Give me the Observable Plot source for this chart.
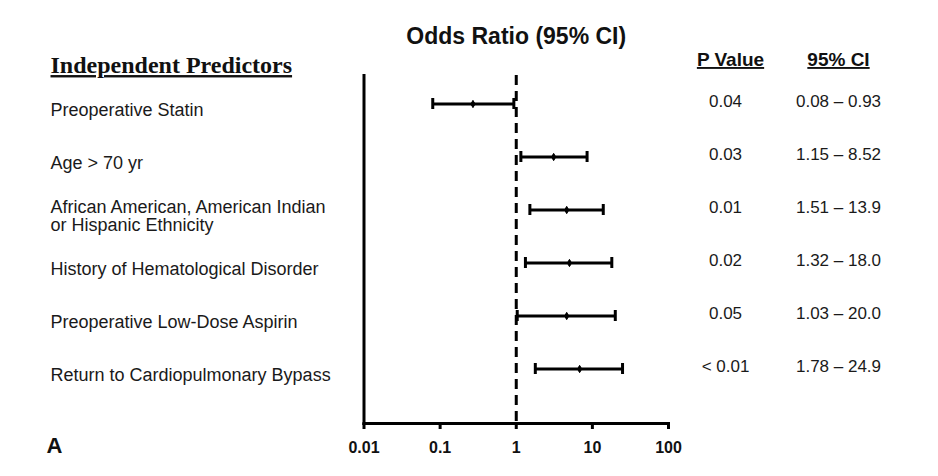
<!DOCTYPE html>
<html>
<head>
<meta charset="utf-8">
<script src="https://cdn.jsdelivr.net/npm/d3@7"></script>
<script src="https://cdn.jsdelivr.net/npm/@observablehq/plot@0.6"></script>
<style>
  html, body { margin: 0; padding: 0; background: #fff; }
  #chart { width: 938px; height: 476px; overflow: hidden; }
</style>
</head>
<body>
<div id="chart"></div>
<script>
// ---- Data ----
const predictors = [
  "Preoperative Statin",
  "Age > 70 yr",
  "African American, American Indian\nor Hispanic Ethnicity",
  "History of Hematological Disorder",
  "Preoperative Low-Dose Aspirin",
  "Return to Cardiopulmonary Bypass"
];
const oddsRatio = [0.27, 3.1, 4.6, 5.0, 4.6, 6.8];
const ciLow  = [0.08, 1.15, 1.51, 1.32, 1.03, 1.78];
const ciHigh = [0.93, 8.52, 13.9, 18.0, 20.0, 24.9];
const pValues = ["0.04", "0.03", "0.01", "0.02", "0.05", "< 0.01"];
const ciLabels = ["0.08 – 0.93", "1.15 – 8.52", "1.51 – 13.9", "1.32 – 18.0", "1.03 – 20.0", "1.78 – 24.9"];
const tickValues = [0.01, 0.1, 1, 10, 100];
const tickLabels = ["0.01", "0.1", "1", "10", "100"];
const xDomain = [0.01, 100];
const referenceLine = [1];
const titleText = ["Odds Ratio (95% CI)"];
const leftHeader = ["Independent Predictors"];
const pHeader = ["P Value"];
const ciHeader = ["95% CI"];
const panelLabel = ["A"];

const rows = predictors.map((name, i) => ({
  name, or: oddsRatio[i], lo: ciLow[i], hi: ciHigh[i], p: pValues[i], ci: ciLabels[i]
}));

const font = "'Liberation Sans', Arial, sans-serif";
const ink = "#111";

const chart = Plot.plot({
  width: 938,
  height: 476,
  marginLeft: 363.5,
  marginRight: 270,
  marginTop: 75,
  marginBottom: 53,
  style: { fontFamily: font, background: "white", color: ink, overflow: "visible" },
  x: { type: "log", domain: xDomain, axis: null },
  y: { type: "band", domain: predictors, padding: 0, insetBottom: 27, axis: null },
  marks: [
    // axes lines
    Plot.frame({ anchor: "left", stroke: "black", strokeWidth: 3, strokeLinecap: "square" }),
    Plot.frame({ anchor: "bottom", stroke: "black", strokeWidth: 3, strokeLinecap: "square" }),
    Plot.axisX({
      ticks: tickValues,
      tickFormat: d => tickLabels[tickValues.indexOf(d)],
      tickSize: 6,
      tickPadding: 12,
      strokeWidth: 3,
      stroke: "black",
      fontSize: 16,
      fontWeight: "bold",
      fill: ink
    }),
    // reference line at OR = 1
    Plot.ruleX(referenceLine, { stroke: "black", strokeWidth: 3, strokeDasharray: "10,6" }),
    // error bars
    Plot.ruleY(rows, { y: "name", x1: "lo", x2: "hi", stroke: "black", strokeWidth: 3 }),
    Plot.tickX(rows, { x: "lo", y: "name", stroke: "black", strokeWidth: 3, insetTop: 21, insetBottom: 21 }),
    Plot.tickX(rows, { x: "hi", y: "name", stroke: "black", strokeWidth: 3, insetTop: 21, insetBottom: 21 }),
    Plot.dot(rows, { x: "or", y: "name", symbol: "diamond", r: 2.2, fill: "black", stroke: "black", strokeWidth: 1 }),
    // predictor labels
    Plot.text(rows, {
      y: "name", text: "name", frameAnchor: "left", textAnchor: "start",
      dx: -313.5, dy: 6, fontSize: 18, lineHeight: 1.03, fill: "#1a1a1a"
    }),
    // p values and CI columns
    Plot.text(rows, { y: "name", text: "p", frameAnchor: "right", textAnchor: "middle", dx: 57, dy: -2, fontSize: 17, fill: "#1a1a1a" }),
    Plot.text(rows, { y: "name", text: "ci", frameAnchor: "right", textAnchor: "middle", dx: 170, dy: -2, fontSize: 17, fill: "#1a1a1a" }),
    // headers
    Plot.text(titleText, { text: d => d, frameAnchor: "top", textAnchor: "middle", dy: -48, fontSize: 23, fontWeight: "bold", fill: ink }),
    Plot.text(leftHeader, {
      text: d => d, frameAnchor: "top-left", textAnchor: "start", dx: -313.5, dy: -19.5,
      fontSize: 24, fontWeight: "bold", fontFamily: "'Liberation Serif', 'Times New Roman', serif", fill: ink
    }),
    Plot.text(pHeader, { text: d => d, frameAnchor: "top-right", textAnchor: "middle", dx: 62, dy: -23, fontSize: 19, fontWeight: "bold", fill: ink }),
    Plot.text(ciHeader, { text: d => d, frameAnchor: "top-right", textAnchor: "middle", dx: 170, dy: -23, fontSize: 19, fontWeight: "bold", fill: ink }),
    Plot.text(panelLabel, {
      text: d => d, frameAnchor: "bottom-left", textAnchor: "start", dx: -317.5, dy: 29,
      fontSize: 22, fontWeight: "bold", fill: ink
    })
  ]
});

// underline the column headers
const underlined = new Set([...leftHeader, ...pHeader, ...ciHeader]);
d3.select(chart).selectAll("text")
  .filter(function () { return underlined.has(this.textContent); })
  .attr("text-decoration", "underline");

document.getElementById("chart").appendChild(chart);
</script>
</body>
</html>
